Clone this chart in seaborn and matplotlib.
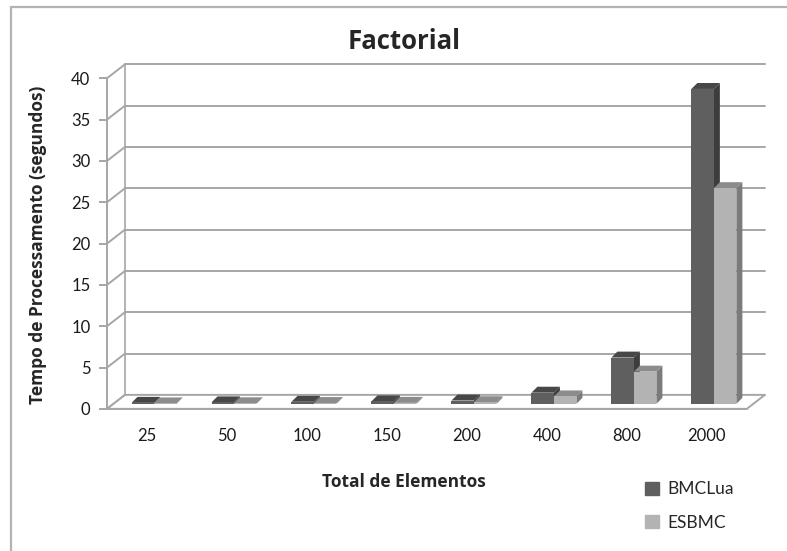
import pandas as pd
import matplotlib.pyplot as plt
import matplotlib.transforms as mtransforms
from matplotlib.patches import Polygon
from matplotlib.lines import Line2D
import seaborn as sns

# Values
elementos = ['25', '50', '100', '150', '200', '400', '800', '2000']
bmclua = [0.12, 0.18, 0.25, 0.3, 0.4, 1.35, 5.6, 38.1]
esbmc = [0.05, 0.07, 0.1, 0.12, 0.2, 0.9, 3.9, 26.1]
series = ['BMCLua', 'ESBMC']

front_colors = {'BMCLua': '#5f5f5f', 'ESBMC': '#b3b3b3'}
side_colors = {'BMCLua': '#3d3d3d', 'ESBMC': '#7b7b7b'}
top_colors = {'BMCLua': '#474747', 'ESBMC': '#8c8c8c'}

df = pd.DataFrame({
    'Elementos': elementos * 2,
    'Tempo': bmclua + esbmc,
    'Serie': [series[0]] * len(elementos) + [series[1]] * len(elementos),
})

sns.set_style('white')
plt.rcParams['font.family'] = ['Lato', 'DejaVu Sans']
bold_font = ['Open Sans', 'DejaVu Sans']

fig = plt.figure(figsize=(7.87, 5.51), dpi=100)
ax = fig.add_axes([0.136, 0.258, 0.813, 0.6])

sns.barplot(data=df, x='Elementos', y='Tempo', hue='Serie', order=elementos,
            hue_order=series, palette=front_colors, width=0.5625,
            saturation=1, errorbar=None, legend=False, ax=ax)

ax.set_xlim(-0.5, len(elementos) - 0.5)
ax.set_ylim(0, 40)

# back wall / floor depth in data units
wdx, wdy = 0.225, 1.69
grid_c = '#a6a6a6'
for yv in range(0, 45, 5):
    ax.plot([-0.5 + wdx, len(elementos) - 0.5 + wdx], [yv + wdy, yv + wdy],
            color=grid_c, lw=1.4, clip_on=False, zorder=0.5)
    ax.plot([-0.5, -0.5 + wdx], [yv, yv + wdy], color=grid_c, lw=1.4,
            clip_on=False, zorder=0.5)
ax.plot([-0.5 + wdx, -0.5 + wdx], [wdy, 40 + wdy], color=grid_c, lw=1.2,
        clip_on=False, zorder=0.5)
floor = Polygon([(-0.5, 0), (len(elementos) - 0.5, 0),
                 (len(elementos) - 0.5 + wdx, wdy), (-0.5 + wdx, wdy)],
                closed=True, facecolor='white', edgecolor=grid_c, lw=1.4,
                clip_on=False, zorder=0.6)
ax.add_patch(floor)

# bars sit in the middle of the depth; add top and side faces
shift = mtransforms.ScaledTranslation(0.07, 0.05, fig.dpi_scale_trans)
bdx, bdy = 0.075, 0.72
bars = [p for p in ax.patches if p is not floor]
for i, p in enumerate(bars):
    name = series[i // len(elementos)]
    tr = ax.transData + shift
    p.set_transform(tr)
    p.set_edgecolor('none')
    p.set_zorder(2)
    p.set_clip_on(False)
    x, w, h = p.get_x(), p.get_width(), p.get_height()
    side = Polygon([(x + w, 0), (x + w + bdx, bdy), (x + w + bdx, h + bdy), (x + w, h)],
                   facecolor=side_colors[name], edgecolor='none', transform=tr,
                   zorder=1.9, clip_on=False)
    top = Polygon([(x, h), (x + w, h), (x + w + bdx, h + bdy), (x + bdx, h + bdy)],
                  facecolor=top_colors[name], edgecolor='none', transform=tr,
                  zorder=1.9, clip_on=False)
    ax.add_patch(side)
    ax.add_patch(top)

for s in ['top', 'right']:
    ax.spines[s].set_visible(False)
for s in ['left', 'bottom']:
    ax.spines[s].set_color(grid_c)
    ax.spines[s].set_linewidth(1.4)

ax.set_yticks(range(0, 45, 5))
ax.set_xticks([i - 0.5 for i in range(len(elementos) + 1)], minor=False)
ax.set_xticklabels([])
ax.set_xticks(range(len(elementos)), minor=True)
ax.set_xticklabels(elementos, minor=True)
ax.tick_params(axis='x', which='major', length=8, color=grid_c, width=1.4, direction='out')
ax.tick_params(axis='x', which='minor', length=0, pad=14, labelsize=12, labelcolor='#1a1a1a')
ax.tick_params(axis='y', length=6, color=grid_c, width=1.4, direction='out', left=True,
               labelsize=12, labelcolor='#1a1a1a', pad=6)
ax.set_xlabel('')
ax.set_ylabel('')

fig.text(0.514, 0.925, 'Factorial', ha='center', va='center', fontsize=18.5,
         fontweight='bold', family=bold_font)
fig.text(0.513, 0.125, 'Total de Elementos', ha='center', va='center', fontsize=12.5,
         fontweight='bold', family=bold_font)
fig.text(0.048, 0.555, 'Tempo de Processamento (segundos)', ha='center', va='center',
         rotation=90, fontsize=12.5, fontweight='bold', family=bold_font)

handles = [plt.Rectangle((0, 0), 1, 1, color=front_colors[s]) for s in series]
fig.legend(handles, series, loc='upper left', bbox_to_anchor=(0.8, 0.155),
           frameon=False, handlelength=0.8, handleheight=0.8, handletextpad=0.5,
           labelspacing=1.0, fontsize=12.5)

# chart border (left and top edges visible in the reference)
fig.add_artist(Line2D([11 / 787, 11 / 787], [0, 1 - 6.5 / 551], color='#b3b3b3', lw=1.6))
fig.add_artist(Line2D([11 / 787, 1], [1 - 6.5 / 551, 1 - 6.5 / 551], color='#b3b3b3', lw=1.6))

fig.savefig('out.png', dpi=100)
